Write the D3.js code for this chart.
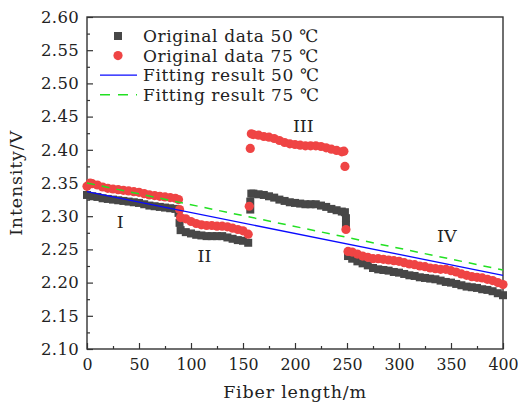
<!DOCTYPE html>
<html>
<head>
<meta charset="utf-8">
<script src="https://cdn.jsdelivr.net/npm/d3@7"></script>
<style>
  body { margin: 0; background: #fff; }
  text { font-family: "DejaVu Serif", serif; fill: #222; }
</style>
</head>
<body>
<svg width="518" height="405"></svg>
<script>
// 50 C measured points (fiber length m, intensity V)
const x50 = [0, 5, 10, 15, 20, 25, 30, 35, 40, 45, 50, 55, 60, 65, 70, 75, 80, 85, 88, 89,
    90, 95, 100, 105, 110, 115, 120, 125, 130, 135, 140, 145, 150, 155,
    157, 157, 158, 160, 165, 170, 175, 180, 185, 190, 195, 200, 205, 210, 215, 220, 225, 230, 235, 240, 245, 248,
    249, 249, 251, 255, 260, 265, 270, 275, 280, 285, 290, 295, 300, 305, 310, 315, 320, 325, 330, 335, 340,
    345, 350, 355, 360, 365, 370, 375, 380, 385, 390, 395, 400];
const y50 = [2.332, 2.330, 2.329, 2.327, 2.326, 2.325, 2.324, 2.323, 2.322, 2.321, 2.320, 2.318, 2.316, 2.315, 2.314, 2.313, 2.312, 2.311, 2.305, 2.290,
    2.279, 2.276, 2.274, 2.272, 2.271, 2.270, 2.270, 2.270, 2.270, 2.268, 2.266, 2.264, 2.263, 2.260,
    2.310, 2.322, 2.334, 2.334, 2.333, 2.332, 2.330, 2.328, 2.325, 2.323, 2.321, 2.320, 2.319, 2.318, 2.318, 2.318, 2.316, 2.314, 2.311, 2.309, 2.307, 2.306,
    2.297, 2.287, 2.240, 2.236, 2.232, 2.229, 2.226, 2.222, 2.220, 2.219, 2.218, 2.216, 2.215, 2.213, 2.211, 2.210, 2.208, 2.207, 2.206, 2.205, 2.203,
    2.201, 2.200, 2.198, 2.196, 2.194, 2.193, 2.192, 2.190, 2.189, 2.187, 2.184, 2.181];

// 75 C measured points
const x75 = [0, 3, 5, 10, 15, 20, 25, 30, 35, 40, 45, 50, 55, 60, 65, 70, 75, 80, 85, 88, 89,
    90, 95, 100, 105, 110, 115, 120, 125, 130, 135, 140, 145, 150, 155,
    156, 157, 158, 160, 165, 170, 175, 180, 185, 190, 195, 200, 205, 210, 215, 220, 225, 230, 235, 240, 245, 247,
    248, 249, 251, 255, 260, 265, 270, 275, 280, 285, 290, 295, 300, 305, 310, 315, 320, 325, 330, 335, 340,
    345, 350, 355, 360, 365, 370, 375, 380, 385, 390, 395, 400];
const y75 = [2.345, 2.350, 2.349, 2.347, 2.344, 2.342, 2.341, 2.340, 2.339, 2.338, 2.337, 2.336, 2.334, 2.332, 2.331, 2.330, 2.329, 2.328, 2.327, 2.325, 2.310,
    2.298, 2.296, 2.292, 2.289, 2.287, 2.286, 2.286, 2.285, 2.285, 2.284, 2.282, 2.280, 2.278, 2.273,
    2.315, 2.402, 2.424, 2.423, 2.422, 2.420, 2.419, 2.417, 2.414, 2.411, 2.409, 2.408, 2.407, 2.406, 2.406, 2.406, 2.405, 2.403, 2.401, 2.399, 2.397, 2.398,
    2.375, 2.280, 2.247, 2.246, 2.243, 2.240, 2.238, 2.236, 2.236, 2.235, 2.234, 2.233, 2.232, 2.230, 2.228, 2.227, 2.225, 2.224, 2.222, 2.221, 2.220,
    2.220, 2.218, 2.216, 2.213, 2.211, 2.209, 2.208, 2.207, 2.205, 2.203, 2.200, 2.197];

// linear fits (end points)
const fitX = [0, 400];
const fit50 = [2.337, 2.211];
const fit75 = [2.350, 2.219];

const legendLabels = ["Original data 50 \u2103", "Original data 75 \u2103", "Fitting result 50 \u2103", "Fitting result 75 \u2103"];
const regions = [["I", 32], ["II", 113], ["III", 208], ["IV", 346]];
const regionY = [2.282, 2.231, 2.4275, 2.261];

const xTicks = d3.range(0, 401, 50);
const yTicks = d3.range(2.10, 2.601, 0.05);

const svg = d3.select("svg");
const margin = { left: 87, top: 17, right: 15, bottom: 56 };
const width = +svg.attr("width") - margin.left - margin.right;
const height = +svg.attr("height") - margin.top - margin.bottom;

const x = d3.scaleLinear().domain([0, 400]).range([0, width]);
const y = d3.scaleLinear().domain([2.10, 2.60]).range([height, 0]);

const g = svg.append("g").attr("transform", `translate(${margin.left},${margin.top})`);

// minor ticks first
g.append("g")
    .attr("transform", `translate(0,${height})`)
    .call(d3.axisBottom(x).tickValues(d3.range(25, 400, 50)).tickSize(-3).tickFormat(""))
    .call(a => a.select(".domain").remove());
g.append("g")
    .call(d3.axisLeft(y).tickValues(d3.range(2.125, 2.6, 0.05)).tickSize(-3).tickFormat(""))
    .call(a => a.select(".domain").remove());

const xAxis = g.append("g")
    .attr("transform", `translate(0,${height})`)
    .call(d3.axisBottom(x).tickValues(xTicks).tickSize(-6).tickPadding(10).tickFormat(d3.format("d")));
const yAxis = g.append("g")
    .call(d3.axisLeft(y).tickValues(yTicks).tickSize(-6).tickPadding(8).tickFormat(d3.format(".2f")));
[xAxis, yAxis].forEach(a => a.select(".domain").remove());
xAxis.selectAll("text").style("font-size", "15.8px").attr("fill", "#222");
yAxis.selectAll("text").style("font-size", "16.5px").style("letter-spacing", "0.3px").attr("fill", "#222");
g.selectAll(".tick line").attr("stroke", "#333").attr("stroke-width", 1.2);

// frame
g.append("rect")
    .attr("width", width).attr("height", height)
    .attr("fill", "none").attr("stroke", "#333").attr("stroke-width", 1.4);

const clr50 = "#474747", clr75 = "#ef4444";

g.append("g").selectAll("rect")
    .data(x50.map((d, i) => [d, y50[i]]))
    .join("rect")
    .attr("x", d => x(d[0]) - 4).attr("y", d => y(d[1]) - 4)
    .attr("width", 8).attr("height", 8)
    .attr("fill", clr50);

g.append("g").selectAll("circle")
    .data(x75.map((d, i) => [d, y75[i]]))
    .join("circle")
    .attr("cx", d => x(d[0])).attr("cy", d => y(d[1]))
    .attr("r", 4.6)
    .attr("fill", clr75);

const line = d3.line().x(d => x(d[0])).y(d => y(d[1]));
g.append("path")
    .datum(fitX.map((d, i) => [d, fit50[i]]))
    .attr("d", line).attr("fill", "none")
    .attr("stroke", "#0a0aff").attr("stroke-width", 1.3);
g.append("path")
    .datum(fitX.map((d, i) => [d, fit75[i]]))
    .attr("d", line).attr("fill", "none")
    .attr("stroke", "#22e022").attr("stroke-width", 1.5)
    .attr("stroke-dasharray", "8,7");

// region labels
g.selectAll(".region")
    .data(regions)
    .join("text")
    .attr("class", "region")
    .attr("x", d => x(d[1]))
    .attr("y", (d, i) => y(regionY[i]))
    .attr("text-anchor", "middle")
    .style("font-size", "17.5px")
    .text(d => d[0]);

// legend
const leg = svg.append("g").attr("transform", "translate(100,36)");
const rowH = 19.6;
legendLabels.forEach((t, i) => {
    const row = leg.append("g").attr("transform", `translate(0,${i * rowH})`);
    if (i === 0) row.append("rect").attr("x", 14).attr("y", -4).attr("width", 8).attr("height", 8).attr("fill", clr50);
    if (i === 1) row.append("circle").attr("cx", 18).attr("cy", 0).attr("r", 4.6).attr("fill", clr75);
    if (i === 2) row.append("line").attr("x1", 0).attr("x2", 37).attr("stroke", "#0a0aff").attr("stroke-width", 1.3);
    if (i === 3) row.append("line").attr("x1", 0).attr("x2", 37).attr("stroke", "#22e022").attr("stroke-width", 1.5).attr("stroke-dasharray", "10,8");
    row.append("text").attr("x", 43).attr("y", 6)
        .style("font-size", "17px").style("letter-spacing", "0.6px").text(t);
});

// axis titles
svg.append("text")
    .attr("x", margin.left + width / 2).attr("y", 398)
    .attr("text-anchor", "middle")
    .style("font-size", "17.5px").style("letter-spacing", "0.8px")
    .text("Fiber length/m");
svg.append("text")
    .attr("transform", `translate(22,${margin.top + height / 2}) rotate(-90)`)
    .attr("text-anchor", "middle")
    .style("font-size", "17.5px").style("letter-spacing", "0.8px")
    .text("Intensity/V");
</script>
</body>
</html>
